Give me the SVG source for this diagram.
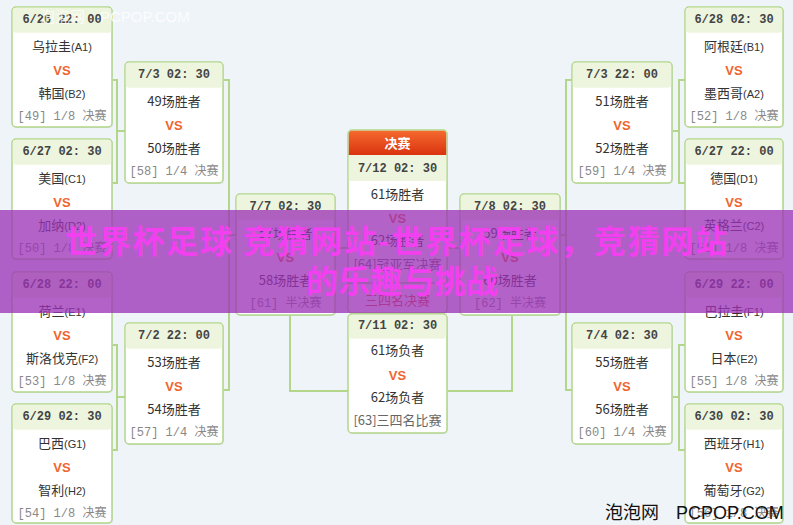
<svg xmlns="http://www.w3.org/2000/svg" width="793" height="525" viewBox="0 0 793 525">
<style>
.box{fill:#ffffff;stroke:#b3d68a;stroke-width:1.5}
.sh{fill:#dde3e8}
.hd{fill:#eef5de}
.date{font-family:"Liberation Mono","Noto Sans CJK SC",monospace;font-size:12px;font-weight:bold;fill:#444;text-anchor:middle}
.team{font-family:"Noto Sans CJK SC",sans-serif;font-size:13px;fill:#333;text-anchor:middle}
.team tspan{font-family:"Liberation Sans",sans-serif;font-size:11px}
.vs{font-family:"Liberation Sans",sans-serif;font-size:13px;font-weight:bold;fill:#f0652d;text-anchor:middle}
.lbl{font-family:"Liberation Mono","Noto Sans CJK SC",monospace;font-size:12px;fill:#888;text-anchor:middle}
.lbl2{font-family:"Noto Sans CJK SC",sans-serif;font-size:13px;fill:#666;text-anchor:middle}
.conn path{fill:none;stroke:#b3d68a;stroke-width:2}
.ov{font-family:"Noto Sans CJK SC",sans-serif;font-weight:bold;font-size:32px;fill:#f23ff0}
</style>
<defs>
<linearGradient id="red" x1="0" y1="0" x2="0" y2="1"><stop offset="0" stop-color="#f5692e"/><stop offset="1" stop-color="#d9330f"/></linearGradient>
</defs>
<rect width="793" height="525" fill="#eff4f9"/>

<g class="conn" id="connectors">
<path d="M112,80 H117 V183 H112 M117,131 H125"/>
<path d="M112,345 H117 V450 H112 M117,397 H125"/>
<path d="M223,80 H229 V390 H223 M229,235 H236"/>
<path d="M685,80 H679 V183 H685 M679,131 H672"/>
<path d="M685,345 H679 V450 H685 M679,397 H672"/>
<path d="M572,80 H566 V390 H572 M566,235 H560"/>
<path d="M335,248 H348 M460,248 H447"/>
<path d="M290,315 V391 H348 M512,315 V391 H447"/>
</g>

<!-- Left round of 16 -->
<g id="m49">
<rect class="sh" x="13" y="8" width="100" height="120" rx="4"/>
<rect class="box" x="12" y="7" width="100" height="120" rx="4"/>
<rect class="hd" x="12.8" y="7.8" width="98.4" height="25" rx="3"/>
<text class="date" x="62" y="23">6/26 22: 00</text>
<text class="team" x="62" y="51">乌拉圭<tspan>(A1)</tspan></text>
<text class="vs" x="62" y="75">VS</text>
<text class="team" x="62" y="98">韩国<tspan>(B2)</tspan></text>
<text class="lbl" x="62" y="120">[49] 1/8 决赛</text>
</g>
<g id="m50">
<rect class="sh" x="13" y="140" width="100" height="120" rx="4"/>
<rect class="box" x="12" y="139" width="100" height="120" rx="4"/>
<rect class="hd" x="12.8" y="139.8" width="98.4" height="25" rx="3"/>
<text class="date" x="62" y="155">6/27 02: 30</text>
<text class="team" x="62" y="183">美国<tspan>(C1)</tspan></text>
<text class="vs" x="62" y="207">VS</text>
<text class="team" x="62" y="230">加纳<tspan>(D2)</tspan></text>
<text class="lbl" x="62" y="252">[50] 1/8 决赛</text>
</g>
<g id="m53">
<rect class="sh" x="13" y="273" width="100" height="120" rx="4"/>
<rect class="box" x="12" y="272" width="100" height="120" rx="4"/>
<rect class="hd" x="12.8" y="272.8" width="98.4" height="25" rx="3"/>
<text class="date" x="62" y="288">6/28 22: 00</text>
<text class="team" x="62" y="316">荷兰<tspan>(E1)</tspan></text>
<text class="vs" x="62" y="340">VS</text>
<text class="team" x="62" y="363">斯洛伐克<tspan>(F2)</tspan></text>
<text class="lbl" x="62" y="385">[53] 1/8 决赛</text>
</g>
<g id="m54">
<rect class="sh" x="13" y="405" width="100" height="119" rx="4"/>
<rect class="box" x="12" y="404" width="100" height="119" rx="4"/>
<rect class="hd" x="12.8" y="404.8" width="98.4" height="25" rx="3"/>
<text class="date" x="62" y="420">6/29 02: 30</text>
<text class="team" x="62" y="448">巴西<tspan>(G1)</tspan></text>
<text class="vs" x="62" y="472">VS</text>
<text class="team" x="62" y="495">智利<tspan>(H2)</tspan></text>
<text class="lbl" x="62" y="517">[54] 1/8 决赛</text>
</g>

<!-- Left quarter-finals -->
<g id="m58">
<rect class="sh" x="126" y="63" width="98" height="121" rx="4"/>
<rect class="box" x="125" y="62" width="98" height="121" rx="4"/>
<rect class="hd" x="125.8" y="62.8" width="96.4" height="25" rx="3"/>
<text class="date" x="174" y="78">7/3 02: 30</text>
<text class="team" x="174" y="106">49场胜者</text>
<text class="vs" x="174" y="130">VS</text>
<text class="team" x="174" y="153">50场胜者</text>
<text class="lbl" x="174" y="175">[58] 1/4 决赛</text>
</g>
<g id="m57">
<rect class="sh" x="126" y="324" width="98" height="121" rx="4"/>
<rect class="box" x="125" y="323" width="98" height="121" rx="4"/>
<rect class="hd" x="125.8" y="323.8" width="96.4" height="25" rx="3"/>
<text class="date" x="174" y="339">7/2 22: 00</text>
<text class="team" x="174" y="367">53场胜者</text>
<text class="vs" x="174" y="391">VS</text>
<text class="team" x="174" y="414">54场胜者</text>
<text class="lbl" x="174" y="436">[57] 1/4 决赛</text>
</g>

<!-- Left semi-final -->
<g id="m61">
<rect class="sh" x="237" y="195" width="99" height="121" rx="4"/>
<rect class="box" x="236" y="194" width="99" height="121" rx="4"/>
<rect class="hd" x="236.8" y="194.8" width="97.4" height="25" rx="3"/>
<text class="date" x="285.5" y="210">7/7 02: 30</text>
<text class="team" x="285.5" y="238">57场胜者</text>
<text class="vs" x="285.5" y="262">VS</text>
<text class="team" x="285.5" y="285">58场胜者</text>
<text class="lbl" x="285.5" y="307">[61] 半决赛</text>
</g>

<!-- Final -->
<g id="m64">
<rect class="sh" x="349" y="131" width="99" height="183" rx="4"/>
<rect class="box" x="348" y="130" width="99" height="183" rx="4"/>
<path d="M348.8,155 V134 Q348.8,130.8 352,130.8 H443 Q446.2,130.8 446.2,134 V155 Z" fill="url(#red)"/>
<rect class="hd" x="348.8" y="155" width="97.4" height="26"/>
<text x="397.5" y="148" text-anchor="middle" font-family="Noto Sans CJK SC, sans-serif" font-size="13" font-weight="bold" fill="#ffffff">决赛</text>
<text class="date" x="397.5" y="172">7/12 02: 30</text>
<text class="team" x="397.5" y="199">61场胜者</text>
<text class="vs" x="397.5" y="223">VS</text>
<text class="team" x="397.5" y="245">62场胜者</text>
<text class="lbl2" x="397.5" y="269">[64]冠亚军决赛</text>
<line x1="349" y1="283" x2="446" y2="283" stroke="#b3d68a" stroke-width="1.5"/>
<text x="397.5" y="305" text-anchor="middle" font-family="Noto Sans CJK SC, sans-serif" font-size="13" fill="#e0502a">三四名决赛</text>
</g>

<!-- Third place -->
<g id="m63">
<rect class="sh" x="349" y="315" width="99" height="119" rx="4"/>
<rect class="box" x="348" y="314" width="99" height="119" rx="4"/>
<rect class="hd" x="348.8" y="314.8" width="97.4" height="24" rx="3"/>
<text class="date" x="397.5" y="329">7/11 02: 30</text>
<text class="team" x="397.5" y="355">61场负者</text>
<text class="vs" x="397.5" y="380">VS</text>
<text class="team" x="397.5" y="402">62场负者</text>
<text class="lbl2" x="397.5" y="425">[63]三四名比赛</text>
</g>

<!-- Right semi-final -->
<g id="m62">
<rect class="sh" x="461" y="195" width="100" height="121" rx="4"/>
<rect class="box" x="460" y="194" width="100" height="121" rx="4"/>
<rect class="hd" x="460.8" y="194.8" width="98.4" height="25" rx="3"/>
<text class="date" x="510" y="210">7/8 02: 30</text>
<text class="team" x="510" y="238">59场胜者</text>
<text class="vs" x="510" y="262">VS</text>
<text class="team" x="510" y="285">60场胜者</text>
<text class="lbl" x="510" y="307">[62] 半决赛</text>
</g>

<!-- Right quarter-finals -->
<g id="m59">
<rect class="sh" x="573" y="63" width="100" height="121" rx="4"/>
<rect class="box" x="572" y="62" width="100" height="121" rx="4"/>
<rect class="hd" x="572.8" y="62.8" width="98.4" height="25" rx="3"/>
<text class="date" x="622" y="78">7/3 22: 00</text>
<text class="team" x="622" y="106">51场胜者</text>
<text class="vs" x="622" y="130">VS</text>
<text class="team" x="622" y="153">52场胜者</text>
<text class="lbl" x="622" y="175">[59] 1/4 决赛</text>
</g>
<g id="m60">
<rect class="sh" x="573" y="324" width="100" height="121" rx="4"/>
<rect class="box" x="572" y="323" width="100" height="121" rx="4"/>
<rect class="hd" x="572.8" y="323.8" width="98.4" height="25" rx="3"/>
<text class="date" x="622" y="339">7/4 02: 30</text>
<text class="team" x="622" y="367">55场胜者</text>
<text class="vs" x="622" y="391">VS</text>
<text class="team" x="622" y="414">56场胜者</text>
<text class="lbl" x="622" y="436">[60] 1/4 决赛</text>
</g>

<!-- Right round of 16 -->
<g id="m52">
<rect class="sh" x="686" y="8" width="98" height="120" rx="4"/>
<rect class="box" x="685" y="7" width="98" height="120" rx="4"/>
<rect class="hd" x="685.8" y="7.8" width="96.4" height="25" rx="3"/>
<text class="date" x="734" y="23">6/28 02: 30</text>
<text class="team" x="734" y="51">阿根廷<tspan>(B1)</tspan></text>
<text class="vs" x="734" y="75">VS</text>
<text class="team" x="734" y="98">墨西哥<tspan>(A2)</tspan></text>
<text class="lbl" x="734" y="120">[52] 1/8 决赛</text>
</g>
<g id="m51">
<rect class="sh" x="686" y="140" width="98" height="120" rx="4"/>
<rect class="box" x="685" y="139" width="98" height="120" rx="4"/>
<rect class="hd" x="685.8" y="139.8" width="96.4" height="25" rx="3"/>
<text class="date" x="734" y="155">6/27 22: 00</text>
<text class="team" x="734" y="183">德国<tspan>(D1)</tspan></text>
<text class="vs" x="734" y="207">VS</text>
<text class="team" x="734" y="230">英格兰<tspan>(C2)</tspan></text>
<text class="lbl" x="734" y="252">[51] 1/8 决赛</text>
</g>
<g id="m55">
<rect class="sh" x="686" y="273" width="98" height="120" rx="4"/>
<rect class="box" x="685" y="272" width="98" height="120" rx="4"/>
<rect class="hd" x="685.8" y="272.8" width="96.4" height="25" rx="3"/>
<text class="date" x="734" y="288">6/29 22: 00</text>
<text class="team" x="734" y="316">巴拉圭<tspan>(F1)</tspan></text>
<text class="vs" x="734" y="340">VS</text>
<text class="team" x="734" y="363">日本<tspan>(E2)</tspan></text>
<text class="lbl" x="734" y="385">[55] 1/8 决赛</text>
</g>
<g id="m56">
<rect class="sh" x="686" y="405" width="98" height="119" rx="4"/>
<rect class="box" x="685" y="404" width="98" height="119" rx="4"/>
<rect class="hd" x="685.8" y="404.8" width="96.4" height="25" rx="3"/>
<text class="date" x="734" y="420">6/30 02: 30</text>
<text class="team" x="734" y="448">西班牙<tspan>(H1)</tspan></text>
<text class="vs" x="734" y="472">VS</text>
<text class="team" x="734" y="495">葡萄牙<tspan>(G2)</tspan></text>
<text class="lbl" x="734" y="517">[56] 1/8 决赛</text>
</g>

<!-- Overlay banner -->
<g id="banner">
<rect x="0" y="210" width="793" height="103" fill="#9b30b5" opacity="0.76"/>
<text class="ov" x="65" y="253" textLength="662" lengthAdjust="spacing">世界杯足球 竞猜网站-世界杯足球，竞猜网站</text>
<text class="ov" x="306" y="293">的乐趣与挑战</text>
</g>

<!-- Watermarks -->
<text x="40" y="22" font-family="Noto Sans CJK SC, sans-serif" font-size="15" fill="#ffffff" opacity="0.75">泡泡网</text>
<text x="100" y="22" font-family="Liberation Sans, sans-serif" font-size="15" fill="#ffffff" opacity="0.85">PCPOP.COM</text>
<text x="605" y="519" font-family="Noto Sans CJK SC, sans-serif" font-size="18" fill="#111111">泡泡网</text>
<text x="676" y="519" font-family="Liberation Sans, sans-serif" font-size="18" fill="#111111">PCPOP.COM</text>
</svg>
